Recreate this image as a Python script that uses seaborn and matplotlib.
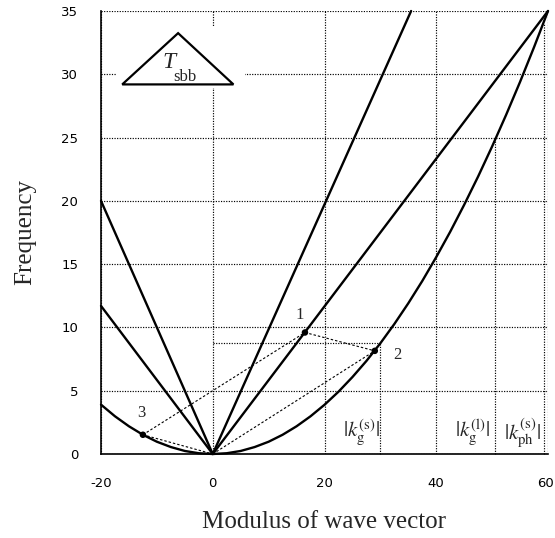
import matplotlib
matplotlib.use("Agg")
import matplotlib.pyplot as plt
import matplotlib.transforms as mtransforms
import seaborn as sns
import pandas as pd
from matplotlib.patches import Polygon, Rectangle

# ---------------- data ----------------
k_para = [-20, -17.5, -15, -12.5, -10, -7.5, -5, -2.5, 0, 2.5, 5, 7.5, 10, 12.5,
          15, 17.5, 20, 22.5, 25, 27.5, 30, 32.5, 35, 37.5, 40, 42.5, 45, 47.5,
          50, 52.5, 55, 57.5, 60]
f_para = [3.9, 2.98, 2.19, 1.52, 0.97, 0.55, 0.24, 0.06, 0, 0.06, 0.24, 0.55,
          0.97, 1.52, 2.19, 2.98, 3.89, 4.92, 6.08, 7.35, 8.75, 10.27, 11.91,
          13.67, 15.56, 17.56, 19.69, 21.93, 24.3, 26.79, 29.4, 32.14, 35.0]
k_steep = [-20, 0, 35.5]
f_steep = [20, 0, 35]
k_mid = [-20, 0, 60]
f_mid = [11.7, 0, 35]

pt_labels = ["1", "2", "3"]
pt_k = [16.5, 29.0, -12.5]
pt_f = [9.6, 8.15, 1.52]
lbl_k = [15.6, 33.0, -12.7]
lbl_f = [11.0, 7.8, 3.2]

# wave-vector markers: (position, height of drop line, label)
kmark_pos = [30.0, 50.5, 59.2]
kmark_top = [8.75, 24.8, 34.0]
kmark_lbl = [r"$|k_{\rm g}^{(\rm s)}|$", r"$|k_{\rm g}^{(\rm l)}|$", r"$|k_{\rm ph}^{(\rm s)}|$"]
kmark_lbl_x = [26.6, 46.5, 55.4]

x_ticks = [-20, 0, 20, 40, 60]
y_ticks = [0, 5, 10, 15, 20, 25, 30, 35]

# ---------------- style ----------------
sns.set_style("white")
plt.rcParams["font.family"] = ["DejaVu Sans"]
plt.rcParams["mathtext.fontset"] = "stix"

fig = plt.figure(figsize=(5.55, 5.38), dpi=100)
ax = fig.add_axes([101 / 555, 84 / 538, 447 / 555, 443 / 538])

ax.set_xlim(-20, 60)
ax.set_ylim(0, 35)
ax.set_xticks(x_ticks)
ax.set_yticks(y_ticks)
ax.set_xticklabels([str(t) for t in x_ticks])
ax.set_yticklabels([str(t) for t in y_ticks])
ax.tick_params(direction="out", length=9.5, width=1.1, labelsize=9.5, pad=7,
               colors="black")
ax.set_axisbelow(True)
ax.grid(True, color="black", linestyle=(0, (1, 1.2)), linewidth=0.85)

# keep the last x tick label inside the figure
lab60 = ax.get_xticklabels()[-1]
lab60.set_transform(lab60.get_transform() +
                    mtransforms.ScaledTranslation(-3 / 100, 0, fig.dpi_scale_trans))

for s in ["top", "right"]:
    ax.spines[s].set_visible(False)
for s in ["left", "bottom"]:
    ax.spines[s].set_color("black")
    ax.spines[s].set_linewidth(1.2)

dot = dict(color="black", linestyle=(0, (1, 1.2)), linewidth=0.85)
dash = dict(color="black", linestyle=(0, (2.2, 1.8)), linewidth=0.8)

# drop lines and horizontal guide
ax.plot([0, kmark_pos[0]], [kmark_top[0], kmark_top[0]], **dot)
for x, top in zip(kmark_pos, kmark_top):
    ax.plot([x, x], [0, top], **dot)

# dashed connections between points
conn = [(2, 0), (0, 1)]
for a, b in conn:
    ax.plot([pt_k[a], pt_k[b]], [pt_f[a], pt_f[b]], **dash)
ax.plot([pt_k[2], 0], [pt_f[2], 0], **dash)
ax.plot([0, pt_k[1]], [0, pt_f[1]], **dash)

# curves
curves = pd.concat([
    pd.DataFrame({"k": k_para, "f": f_para, "c": "para"}),
    pd.DataFrame({"k": k_steep, "f": f_steep, "c": "steep"}),
    pd.DataFrame({"k": k_mid, "f": f_mid, "c": "mid"}),
])
sns.lineplot(data=curves, x="k", y="f", units="c", estimator=None, sort=False,
             color="black", linewidth=1.7, ax=ax, legend=False)
for ln in ax.lines:
    ln.set_clip_on(False)

# points
sns.scatterplot(x=pt_k, y=pt_f, color="black", s=22, edgecolor="none",
                ax=ax, zorder=5, legend=False)
for lab, x, y in zip(pt_labels, lbl_k, lbl_f):
    ax.text(x, y, lab, fontsize=12, family="Liberation Serif",
            ha="center", va="center")

for lab, x in zip(kmark_lbl, kmark_lbl_x):
    ax.text(x, 1.7, lab, fontsize=15, ha="center", va="center")

# T_sbb triangle with white backing
ax.add_patch(Rectangle((-17.4, 28.9), 23.2, 4.8, facecolor="white",
                       edgecolor="none", zorder=3))
ax.add_patch(Polygon([[-16.2, 29.2], [-6.2, 33.25], [3.7, 29.2]], closed=True,
                     facecolor="none", edgecolor="black", linewidth=1.6,
                     zorder=4))
ax.text(-7.8, 30.9, "T", fontsize=17, family="Liberation Serif",
        style="italic", ha="center", va="center", zorder=5)
ax.text(-4.9, 29.75, "sbb", fontsize=12, family="Liberation Serif",
        ha="center", va="center", zorder=5)

# axis labels
ax.set_xlabel("")
ax.set_ylabel("")
fig.text(324 / 555, 1 - 522 / 538, "Modulus of wave vector", fontsize=18,
         family="Liberation Serif", ha="center", va="center")
fig.text(25 / 555, 1 - 232 / 538, "Frequency", fontsize=18,
         family="Liberation Serif", ha="center", va="center", rotation=90)

fig.savefig("out.png", dpi=100)
